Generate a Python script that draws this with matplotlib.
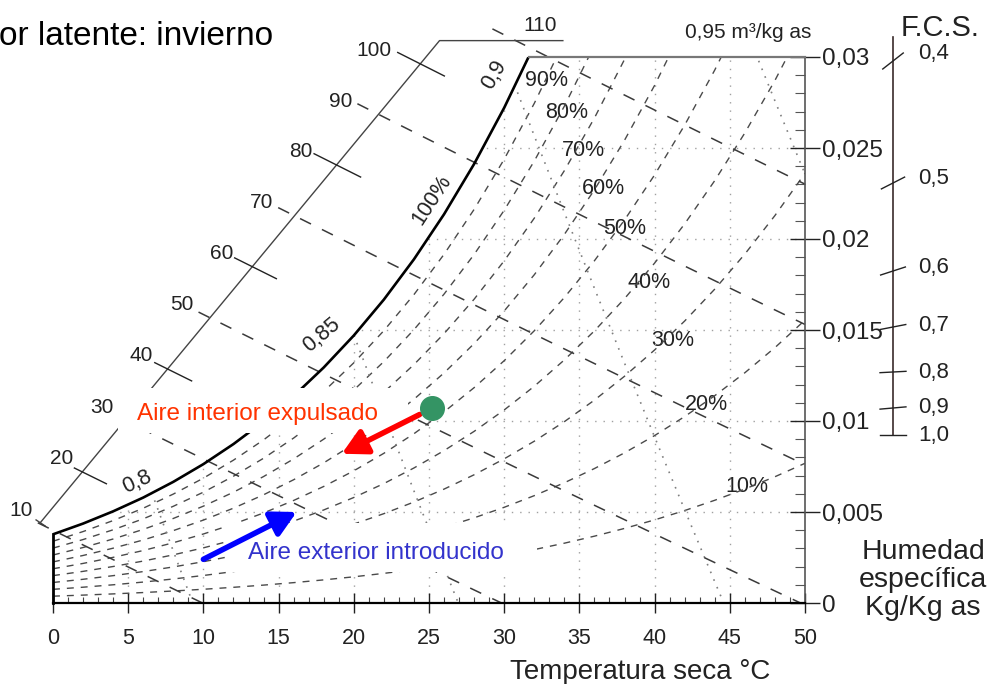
import numpy as np
import matplotlib
matplotlib.use("Agg")
import matplotlib.pyplot as plt
from matplotlib.patches import Polygon, Rectangle
from matplotlib.ticker import FixedLocator, FixedFormatter, MultipleLocator

plt.rcParams['font.family'] = ['Liberation Sans', 'DejaVu Sans']

# --- chart data ---
# saturation vapour pressure (kPa) against dry-bulb temperature (°C)
temp_c = [0, 2, 4, 6, 8, 10, 12, 14, 16, 18, 20, 22, 24, 26,
          28, 30, 32, 34, 36, 38, 40, 42, 44, 46, 48, 50]
p_sat_kpa = [0.611, 0.706, 0.814, 0.935, 1.073, 1.228, 1.403, 1.599, 1.819,
             2.065, 2.339, 2.645, 2.986, 3.364, 3.783, 4.247, 4.759, 5.325,
             5.947, 6.632, 7.384, 8.209, 9.112, 10.099, 11.177, 12.352]
p_atm = 101.325

rh_levels = [10, 20, 30, 40, 50, 60, 70, 80, 90]
enthalpy_levels = [10, 20, 30, 40, 50, 60, 70, 80, 90, 100, 110]
volume_levels = [0.80, 0.85, 0.90, 0.95]

x_ticks = [0, 5, 10, 15, 20, 25, 30, 35, 40, 45, 50]
w_ticks = [0, 0.005, 0.01, 0.015, 0.02, 0.025, 0.03]
w_tick_labels = ['0', '0,005', '0,01', '0,015', '0,02', '0,025', '0,03']
fcs_labels = ['0,4', '0,5', '0,6', '0,7', '0,8', '0,9', '1,0']

# process points (T in °C, W in kg/kg)
interior_point = (25.2, 0.0107)
interior_arrow_tip = (19.2, 0.0082)
exterior_point = (10.0, 0.0024)
exterior_arrow_tip = (16.2, 0.0050)

# --- layout (pixels, origin top-left) ---
rh_label_px = [(747, 486), (706, 404), (673, 340), (649, 282), (625, 228),
               (603, 188), (583, 150), (567, 113), (547, 80)]
fcs_tick_y = [61, 183, 271, 327, 372, 408, 435]
fcs_tick_angle = [38, 27, 18, 11, 3, 5, 0]
scale_lo = (-0.86, 0.0044)    # enthalpy scale, lower end (T, W)
scale_hi = (25.7, 0.0309)     # enthalpy scale, upper end
scale_end_t = 33.9
ink = '#222'

fig = plt.figure(figsize=(9.92, 6.84), dpi=100, facecolor='white')
ov = fig.add_axes([0, 0, 1, 1], zorder=-1)
ov.set_xlim(0, 992)
ov.set_ylim(684, 0)
ov.axis('off')

ax = fig.add_axes([53 / 992, 81 / 684, 752 / 992, 546 / 684])
ax.set_xlim(0, 50)
ax.set_ylim(0, 0.03)
ax.patch.set_alpha(0)

t_sat = np.array(temp_c, float)
ps = np.array(p_sat_kpa)
w_sat = 0.622 * ps / (p_atm - ps)

# region under the saturation curve, used to clip interior lines
region = Polygon(np.vstack([[[0, 0], [50, 0]],
                            np.column_stack([t_sat, w_sat])[::-1]]),
                 closed=True, transform=ax.transData,
                 facecolor='none', edgecolor='none')
ax.add_patch(region)


def to_px(t, w):
    d = ax.transData.transform((t, w))
    return ov.transData.inverted().transform(d)


def enthalpy_w(h, t):
    return (h - 1.006 * t) / (2501 + 1.86 * t)


def volume_w(v, t):
    return (v * p_atm / (0.287 * (t + 273.15)) - 1) / 1.6078


def scale_crossing(h):
    s = (scale_hi[1] - scale_lo[1]) / (scale_hi[0] - scale_lo[0])
    a0 = scale_lo[1] - s * scale_lo[0]
    a = 1.86 * s
    b = 2501 * s + 1.86 * a0 + 1.006
    c = 2501 * a0 - h
    t = (-b + np.sqrt(b * b - 4 * a * c)) / (2 * a)
    if t > scale_hi[0]:
        w = scale_hi[1]
        t = (h - 2501 * w) / (1.006 + 1.86 * w)
    return t, enthalpy_w(h, t)


# dotted grid
grid_kw = dict(color='#a0a0a0', lw=1.0, linestyle=(0, (1, 5)), zorder=1)
for t in x_ticks[1:-1]:
    ln, = ax.plot([t, t], [0, 0.03], **grid_kw)
    ln.set_clip_path(region)
for w in w_ticks[1:-1]:
    ln, = ax.plot([0, 50], [w, w], **grid_kw)
    ln.set_clip_path(region)

# relative humidity curves
for rh in rh_levels:
    pv = rh / 100 * ps
    w = 0.622 * pv / (p_atm - pv)
    ax.plot(t_sat, w, color='#4a4a4a', lw=1.0, dashes=(5, 5), zorder=2)
for rh, (x, y) in zip(rh_levels, rh_label_px):
    ov.text(x, y, f'{rh}%', ha='center', va='center', fontsize=15.5, color=ink)

# specific volume lines
for v in volume_levels:
    ln, = ax.plot(t_sat, volume_w(v, t_sat), color='#808080', lw=1.2,
                  linestyle=(0, (1, 4)), zorder=2)
    ln.set_clip_path(region)
for txt, (x, y), rot in [('0,8', (137, 482), 25), ('0,85', (322, 335), 40),
                         ('0,9', (494, 75), 60)]:
    ov.text(x, y, txt, ha='center', va='center', rotation=rot, fontsize=15.5, color=ink)
ov.text(748, 33, '0,95 m³/kg as', ha='center', va='center', fontsize=15, color=ink)

# saturation curve and chart outline
ax.plot(t_sat, w_sat, color='black', lw=1.9, zorder=3)
ov.text(432, 200, '100%', ha='center', va='center', rotation=57, fontsize=15.5, color=ink)
t_top = np.interp(0.03, w_sat, t_sat)
ax.plot([t_top, 50], [0.03, 0.03], color='#777', lw=1.6, clip_on=False, zorder=3)
ax.plot([0, 0], [0, w_sat[0]], color='black', lw=2, clip_on=False, zorder=3)

# enthalpy scale
ax.plot([scale_lo[0], scale_hi[0], scale_end_t],
        [scale_lo[1], scale_hi[1], scale_hi[1]],
        color='#444', lw=1.0, clip_on=False, zorder=3)
for h in enthalpy_levels:
    tc, wc = scale_crossing(h)
    xc, yc = to_px(tc, wc)
    if h < 110:
        yl = yc - 13
        xl = 33 + (510 - yl) * 360 / 461
        ov.text(xl, yl, str(h), ha='right', va='center', fontsize=15, color=ink)
        gap = (xc - xl) / 15.04
    else:
        ov.text(xc + 24, yc - 15, str(h), ha='center', va='center',
                fontsize=15, color=ink)
        gap = 1.9
    if h % 20 == 10:
        t0 = tc - max(gap - 0.35, 0)
        t1 = min(h / 1.006, 50)
        tt = np.linspace(t0, t1, 40)
        ax.plot(tt, enthalpy_w(h, tt), color='#3a3a3a', lw=1.1,
                dashes=(8, 8), clip_on=False, zorder=2)
    else:
        tt = np.array([tc - min(1.5, gap - 0.1), tc + 1.6])
        ax.plot(tt, enthalpy_w(h, tt), color=ink, lw=1.0,
                clip_on=False, zorder=3)
# end bar at the foot of the scale
x0, y0 = to_px(*scale_lo)
ov.plot([x0 - 4, x0 + 5], [y0 - 3, y0 + 3], color='#444', lw=1.0)

# axes: bottom temperature scale, right humidity scale
for side in ('left', 'top'):
    ax.spines[side].set_visible(False)
ax.spines['bottom'].set_linewidth(1.6)
ax.spines['right'].set_linewidth(1.2)
ax.spines['right'].set_color('#555')

ax.xaxis.set_major_locator(FixedLocator(x_ticks))
ax.xaxis.set_major_formatter(FixedFormatter([str(t) for t in x_ticks]))
ax.xaxis.set_minor_locator(MultipleLocator(1))
ax.tick_params(axis='x', which='major', direction='inout', length=14,
               width=1.0, pad=11, labelsize=15.5, colors=ink)
ax.tick_params(axis='x', which='minor', direction='in', length=4, width=0.8, color='#444')

ax.yaxis.tick_right()
ax.yaxis.set_major_locator(FixedLocator(w_ticks))
ax.yaxis.set_major_formatter(FixedFormatter(w_tick_labels))
ax.yaxis.set_minor_locator(MultipleLocator(0.001))
ax.tick_params(axis='y', which='major', direction='inout', length=21,
               width=1.0, pad=2, labelsize=17.5, colors=ink)
ax.tick_params(axis='y', which='minor', direction='in', length=7, width=0.8, color='#555')

ov.text(640, 679, 'Temperatura seca °C', ha='center', va='baseline', fontsize=20, color=ink)
ov.text(923, 580, 'Humedad\nespecífica\nKg/Kg as', ha='center', va='center',
        fontsize=20.5, linespacing=1.1, color=ink)

# F.C.S. scale
ov.plot([893, 893], [37, 435], color='#3a2a2a', lw=1.2)
ov.text(940, 28, 'F.C.S.', ha='center', va='center', fontsize=21, color=ink)
for lab, y, ang in zip(fcs_labels, fcs_tick_y, fcs_tick_angle):
    dx = 13 * np.cos(np.radians(ang))
    dy = 13 * np.sin(np.radians(ang))
    ov.plot([893 - dx, 893 + dx], [y + dy, y - dy], color=ink, lw=1.0)
    ov.text(918, y - dy + 1, lab, ha='left', va='center', fontsize=16, color=ink)

ov.text(-1, 45, 'or latente: invierno', ha='left', va='baseline', fontsize=24, color='black')

# process annotations
for (x0, y0, x1, y1) in [(118, 388, 408, 433), (227, 523, 537, 572)]:
    ax.add_patch(Rectangle((x0, y0), x1 - x0, y1 - y0, transform=ov.transData,
                           facecolor='white', edgecolor='none', clip_on=False, zorder=5))
ax.text(137, 420, 'Aire interior expulsado', transform=ov.transData,
        ha='left', va='baseline', fontsize=17.5, color='#ff3300', zorder=6)
ax.text(248, 559, 'Aire exterior introducido', transform=ov.transData,
        ha='left', va='baseline', fontsize=17.5, color='#3333cc', zorder=6)

ax.annotate('', xy=interior_arrow_tip, xytext=interior_point,
            arrowprops=dict(arrowstyle='-|>,head_length=0.75,head_width=0.4',
                            mutation_scale=20, lw=4, color='#ff0000',
                            shrinkA=10, shrinkB=0), zorder=7)
ax.annotate('', xy=exterior_arrow_tip, xytext=exterior_point,
            arrowprops=dict(arrowstyle='-|>,head_length=0.75,head_width=0.4',
                            mutation_scale=20, lw=4, color='#0000ff',
                            shrinkA=0, shrinkB=0), zorder=7)
ax.plot(*interior_point, 'o', ms=17, color='#349464', zorder=8, clip_on=False)

fig.savefig('out.png', dpi=100)
